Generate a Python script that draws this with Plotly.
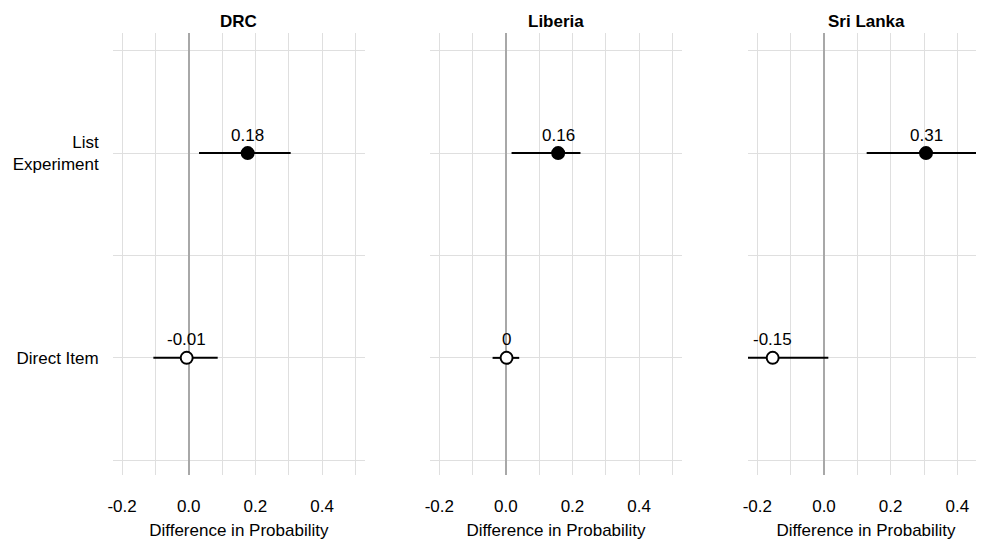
import plotly.graph_objects as go

# ---- data ----
countries = ["DRC", "Liberia", "Sri Lanka"]
measures = ["Direct Item", "List Experiment"]
measure_ticktext = ["Direct Item", "List<br>Experiment"]

# estimates per country, ordered as measures
est_direct = [-0.006, 0.002, -0.154]
lo_direct = [-0.106, -0.040, -0.240]
hi_direct = [0.087, 0.040, 0.013]
lab_direct = ["-0.01", "0", "-0.15"]

est_list = [0.177, 0.157, 0.306]
lo_list = [0.031, 0.017, 0.128]
hi_list = [0.306, 0.224, 0.467]
lab_list = ["0.18", "0.16", "0.31"]

x_tickvals = [-0.2, 0.0, 0.2, 0.4]

# ---- layout geometry (page body has an 8px margin) ----
W, H = 976, 533
FONT = "Liberation Sans, Arial, Helvetica, sans-serif"
FS = 17
x_domains = [(104.7 / W, 357 / W), (422 / W, 674 / W), (740 / W, 1.0)]
x_ranges = [[-0.228, 0.529], [-0.228, 0.529], [-0.228, 0.480]]
y_domain = [66 / H, 507.7 / H]
y_range = [0.428, 2.585]
GRID = "#dfdfdf"

fig = go.Figure()
ypos = {m: i + 1 for i, m in enumerate(measures)}

annotations = []
for k, c in enumerate(countries):
    xa = "x" if k == 0 else f"x{k+1}"
    ya = "y" if k == 0 else f"y{k+1}"
    est = [est_direct[k], est_list[k]]
    lo = [lo_direct[k], lo_list[k]]
    hi = [hi_direct[k], hi_list[k]]
    labs = [lab_direct[k], lab_list[k]]
    ys = [ypos[m] for m in measures]
    fig.add_trace(go.Scatter(
        x=est, y=ys, xaxis=xa, yaxis=ya, mode="markers",
        marker=dict(size=12, color=["white", "black"],
                    line=dict(color="black", width=2)),
        error_x=dict(type="data", symmetric=False,
                     array=[h - e for h, e in zip(hi, est)],
                     arrayminus=[e - l for e, l in zip(est, lo)],
                     width=0, thickness=2, color="black"),
        showlegend=False, cliponaxis=True,
    ))
    for e, yv, t in zip(est, ys, labs):
        annotations.append(dict(x=e, y=yv, xref=xa, yref=ya, text=t,
                                showarrow=False, yshift=18,
                                font=dict(size=FS, color="black", family=FONT)))
    annotations.append(dict(x=0.5, y=1 - 13.7 / H, xref=f"{xa} domain", yref="paper",
                            text=f"<b>{c}</b>", showarrow=False, yanchor="middle",
                            font=dict(size=FS, color="black", family=FONT)))

    xkey = "xaxis" if k == 0 else f"xaxis{k+1}"
    ykey = "yaxis" if k == 0 else f"yaxis{k+1}"
    fig.layout[xkey] = dict(
        domain=list(x_domains[k]), range=x_ranges[k], anchor=ya,
        tickmode="array", tickvals=x_tickvals,
        ticktext=[f"{v:.1f}" for v in x_tickvals],
        showgrid=True, gridcolor=GRID, gridwidth=1,
        minor=dict(tickmode="linear", tick0=0.1, dtick=0.2, showgrid=True,
                   gridcolor=GRID, gridwidth=1),
        zeroline=True, zerolinecolor="#a8a8a8", zerolinewidth=2,
        showline=False, ticks="", ticklabelstandoff=19,
        tickfont=dict(size=FS, color="black", family=FONT),
        title=dict(text="Difference in Probability", standoff=9,
                   font=dict(size=FS, color="black", family=FONT)),
        fixedrange=True,
    )
    fig.layout[ykey] = dict(
        domain=y_domain, range=y_range, anchor=xa,
        tickmode="array", tickvals=[ypos[m] for m in measures],
        ticktext=measure_ticktext if k == 0 else ["", ""],
        showticklabels=(k == 0),
        showgrid=True, gridcolor=GRID, gridwidth=1,
        minor=dict(tickmode="linear", tick0=0.5, dtick=1, showgrid=True,
                   gridcolor=GRID, gridwidth=1),
        zeroline=False, showline=False, ticks="", ticklabelstandoff=13,
        tickfont=dict(size=FS, color="black", family=FONT),
        fixedrange=True,
    )

fig.update_layout(
    width=W, height=H,
    margin=dict(l=0, r=0, t=0, b=0, autoexpand=False),
    paper_bgcolor="white", plot_bgcolor="white",
    font=dict(family=FONT, size=FS, color="black"),
    annotations=annotations,
)
fig.write_html("out.html")
